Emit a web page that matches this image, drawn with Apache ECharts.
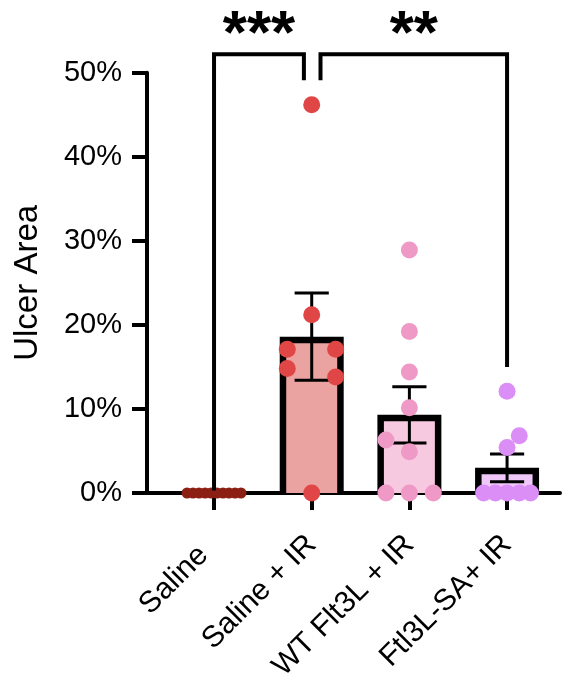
<!DOCTYPE html>
<html>
<head>
<meta charset="utf-8">
<script src="https://cdn.jsdelivr.net/npm/echarts@6/dist/echarts.min.js"></script>
<style>html,body{margin:0;padding:0;background:#fff}#chart{width:566px;height:677px}</style>
</head>
<body>
<div id="chart"></div>
<script>
// ---- data ----
const categories = ['Saline', 'Saline + IR', 'WT Flt3L + IR', 'Ftl3L-SA+ IR'];
const barMeans = [0, 18.6, 9.3, 3.0];
const barSem = [0, 5.2, 3.35, 1.65];
const yTicks = [0, 10, 20, 30, 40, 50];

const pointsSaline = [0, 0, 0, 0, 0, 0, 0, 0, 0, 0];
const jitterSaline = [-0.276, -0.215, -0.153, -0.092, -0.031, 0.031, 0.092, 0.153, 0.215, 0.276];
const pointsSalineIR = [46.2, 21.2, 17.1, 17.1, 14.8, 13.8, 0];
const jitterSalineIR = [0, 0, -0.25, 0.245, -0.25, 0.245, 0];
const pointsWT = [28.9, 19.2, 14.4, 10.15, 6.3, 4.9, 0, 0, 0];
const jitterWT = [0, 0, 0, 0, -0.24, 0, -0.24, 0, 0.245];
const pointsSA = [12.1, 6.8, 5.4, 0, 0, 0, 0, 0];
const jitterSA = [0, 0.125, 0, -0.24, -0.12, 0, 0.125, 0.24];

const sigX1 = [0, 1.09];
const sigX2 = [0.92, 3];
const sigTop = [52.2, 52.2];
const sigLeftEnd = [0.3, 49.1];
const sigRightEnd = [49.1, 15.0];
const sigLabels = ['***', '**'];

// ---- style ----
const FONT = 'Liberation Sans, Arial, Helvetica, sans-serif';
const barFill = ['#ffffff', '#EBA3A1', '#F7C9E0', '#EFC8F9'];
const dotColor = ['#8C1F14', '#E04646', '#EF9AC6', '#DA8EF6'];
const dotSize = [11, 17, 17, 17];
const labelPadRight = [15, 0, 0, 0];

const groups = [
  [pointsSaline, jitterSaline],
  [pointsSalineIR, jitterSalineIR],
  [pointsWT, jitterWT],
  [pointsSA, jitterSA]
];

const chart = echarts.init(document.getElementById('chart'), null, {renderer: 'canvas'});

const gridTop = 72.7, gridBottom = 184;

const scatterSeries = groups.map((g, gi) => ({
  type: 'scatter',
  xAxisIndex: 1, yAxisIndex: 0,
  symbolSize: dotSize[gi],
  itemStyle: {color: dotColor[gi], opacity: 1},
  z: 5,
  clip: false,
  silent: true,
  data: g[0].map((v, i) => [gi + g[1][i], v])
}));

const option = {
  animation: false,
  grid: [
    {left: 165.2, right: 10.1, top: gridTop, bottom: gridBottom, containLabel: false, outerBoundsMode: 'none'},
    {left: 147, right: 6, top: gridTop, bottom: gridBottom, containLabel: false, outerBoundsMode: 'none'}
  ],
  xAxis: [
    {
      type: 'category', gridIndex: 0,
      data: categories.map((c, i) => ({value: c, textStyle: {padding: [0, labelPadRight[i], 0, 0]}})),
      axisLine: {show: false},
      axisTick: {show: true, alignWithLabel: true, length: 17, lineStyle: {color: '#000', width: 4}},
      axisLabel: {rotate: 45, margin: 47, fontSize: 30, color: '#000', fontFamily: FONT, interval: 0}
    },
    {type: 'value', gridIndex: 0, min: -0.5, max: 3.5, show: false},
    {
      type: 'value', gridIndex: 1, min: 0, max: 1,
      axisLine: {show: true, lineStyle: {color: '#000', width: 4}},
      axisTick: {show: false}, axisLabel: {show: false}, splitLine: {show: false}
    }
  ],
  yAxis: [
    {type: 'value', gridIndex: 0, min: 0, max: 50, show: false},
    {
      type: 'value', gridIndex: 1, min: yTicks[0], max: yTicks[yTicks.length - 1], interval: 10,
      axisLine: {show: true, lineStyle: {color: '#000', width: 4}},
      axisTick: {show: true, length: 15, lineStyle: {color: '#000', width: 4}},
      axisLabel: {formatter: '{value}%', fontSize: 29, color: '#000', fontFamily: FONT, margin: 25},
      splitLine: {show: false},
      name: 'Ulcer Area', nameLocation: 'middle', nameGap: 103, nameRotate: 90,
      nameTextStyle: {fontSize: 33, color: '#000', fontFamily: FONT}
    }
  ],
  series: [
    {
      type: 'custom', xAxisIndex: 0, yAxisIndex: 0, z: 2, silent: true,
      data: categories.map((c, i) => [i, barMeans[i]]),
      renderItem: function (params, api) {
        const i = api.value(0), v = api.value(1);
        const t = api.coord([i, v]);
        const b0 = api.coord([i, 0]);
        const w = api.size([1, 0])[0] * 0.655;
        const h = b0[1] - t[1];
        const bw = 6.5;
        const children = [];
        if (h > 0) {
          children.push({type: 'rect', shape: {x: t[0] - w / 2, y: t[1], width: w, height: h}, style: {fill: '#000'}});
          if (h > bw) {
            children.push({type: 'rect', shape: {x: t[0] - w / 2 + bw, y: t[1] + bw, width: w - 2 * bw, height: h - bw}, style: {fill: barFill[i]}});
          }
        }
        return {type: 'group', children: children};
      }
    },
    {
      type: 'custom', xAxisIndex: 0, yAxisIndex: 0, z: 3, silent: true,
      data: categories.map((c, i) => [i, barMeans[i], barSem[i]]),
      renderItem: function (params, api) {
        const i = api.value(0), m = api.value(1), s = api.value(2);
        if (!(s > 0)) return {type: 'group', children: []};
        const hi = api.coord([i, m + s]);
        const lo = api.coord([i, m - s]);
        const cw = api.size([1, 0])[0] * 0.35;
        const st = {stroke: '#000', lineWidth: 3};
        return {type: 'group', children: [
          {type: 'line', shape: {x1: hi[0], y1: hi[1], x2: lo[0], y2: lo[1]}, style: st},
          {type: 'line', shape: {x1: hi[0] - cw / 2, y1: hi[1], x2: hi[0] + cw / 2, y2: hi[1]}, style: st},
          {type: 'line', shape: {x1: lo[0] - cw / 2, y1: lo[1], x2: lo[0] + cw / 2, y2: lo[1]}, style: st}
        ]};
      }
    },
    ...scatterSeries,
    {
      type: 'custom', xAxisIndex: 1, yAxisIndex: 0, z: 6, clip: false, silent: true,
      data: sigX1.map((x, i) => [x, sigX2[i], sigTop[i], sigLeftEnd[i], sigRightEnd[i], i]),
      renderItem: function (params, api) {
        const x1 = api.value(0), x2 = api.value(1), yt = api.value(2), yl = api.value(3), yr = api.value(4), k = api.value(5);
        const a = api.coord([x1, yl]);
        const b = api.coord([x1, yt]);
        const c = api.coord([x2, yt]);
        const d = api.coord([x2, yr]);
        return {type: 'group', children: [
          {type: 'polyline', shape: {points: [a, b, c, d]}, style: {stroke: '#000', lineWidth: 4, fill: null, lineJoin: 'miter'}},
          {type: 'text', x: (b[0] + c[0]) / 2, y: b[1] - 18, style: {
            text: sigLabels[k], fill: '#000', font: 'bold 62px ' + FONT,
            textAlign: 'center', textVerticalAlign: 'middle'
          }}
        ]};
      }
    }
  ]
};

chart.setOption(option);
</script>
</body>
</html>
